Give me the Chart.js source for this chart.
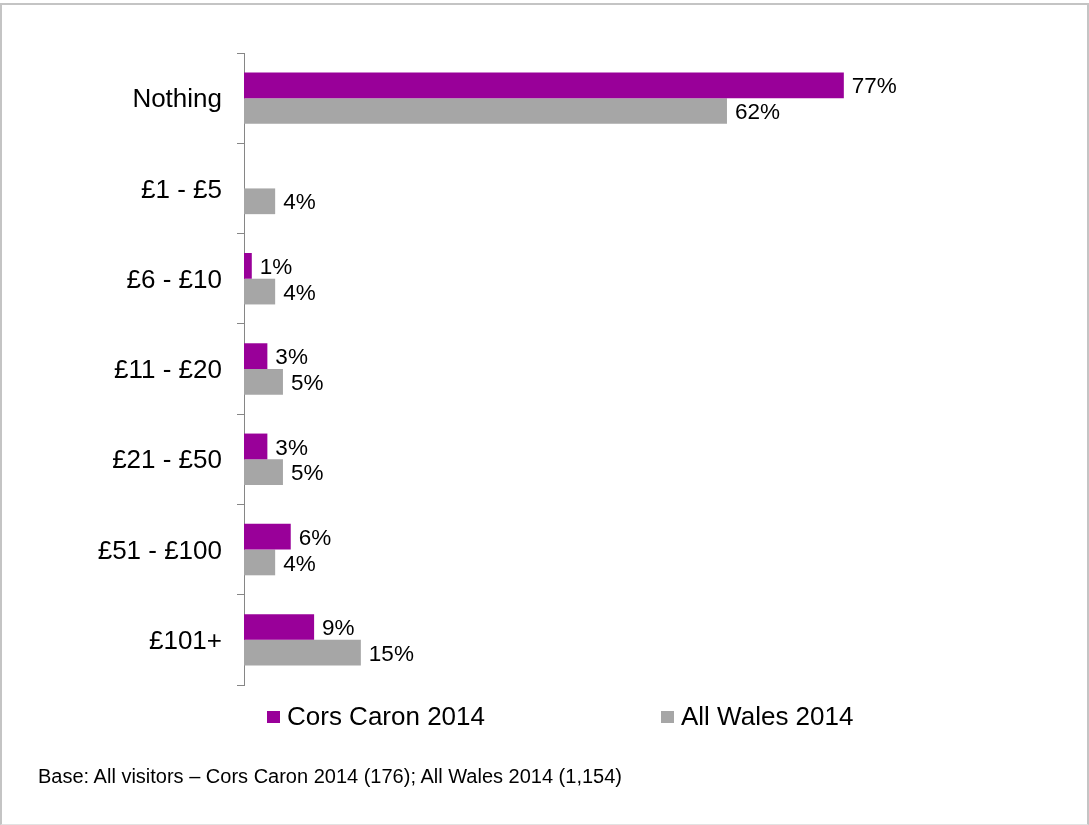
<!DOCTYPE html>
<html>
<head>
<meta charset="utf-8">
<title>Spend per visit</title>
<script src="https://cdn.jsdelivr.net/npm/chart.js@4/dist/chart.umd.min.js"></script>
<style>
  html, body { margin: 0; padding: 0; background: #fff; }
  body { width: 1089px; height: 825px; position: relative; overflow: hidden; font-family: "Liberation Sans", Arial, sans-serif; }
  #wrap { position: absolute; left: 0; top: 0; width: 1089px; height: 825px; }
  .frame {
    position: absolute; left: 0; top: 3px; width: 1089px; height: 822px; box-sizing: border-box;
    border-top: 2px solid #c4c4c4; border-left: 2px solid #c4c4c4; border-right: 2px solid #c4c4c4;
    border-bottom: 1px solid #e2e2e2; pointer-events: none;
  }
  .note { position: absolute; left: 38px; top: 765px; font-size: 20px; color: #000; white-space: nowrap; }
</style>
</head>
<body>
<div id="wrap"><canvas id="chart" width="1089" height="825"></canvas></div>
<div class="frame"></div>
<div class="note">Base: All visitors – Cors Caron 2014 (176); All Wales 2014 (1,154)</div>
<script>
const categories = ['Nothing', '£1 - £5', '£6 - £10', '£11 - £20', '£21 - £50', '£51 - £100', '£101+'];
const seriesNames = ['Cors Caron 2014', 'All Wales 2014'];
const corsCaron = [77, null, 1, 3, 3, 6, 9];
const allWales = [62, 4, 4, 5, 5, 4, 15];

const FONT = '"Liberation Sans", Arial, sans-serif';
const PURPLE = '#990099';
const GREY = '#a6a6a6';
const AXIS = '#868686';

// value labels to the right of each bar
const barLabels = {
  id: 'barLabels',
  afterDatasetsDraw(chart) {
    const ctx = chart.ctx;
    ctx.save();
    ctx.font = '22.5px ' + FONT;
    ctx.fillStyle = '#000';
    ctx.textBaseline = 'middle';
    ctx.textAlign = 'left';
    chart.data.datasets.forEach((ds, i) => {
      chart.getDatasetMeta(i).data.forEach((bar, j) => {
        const v = ds.data[j];
        if (v === null || v === undefined) return;
        ctx.fillText(v + '%', bar.x + 8, bar.y + 2);
      });
    });
    ctx.restore();
  },
};

// legend row under the plot, square then name
const legendRow = {
  id: 'legendRow',
  afterDraw(chart) {
    const ctx = chart.ctx;
    const left = chart.chartArea.left;
    const starts = [left + 23, left + 417];
    const y = chart.chartArea.bottom + 32;
    ctx.save();
    ctx.font = '26px ' + FONT;
    ctx.textBaseline = 'middle';
    ctx.textAlign = 'left';
    chart.data.datasets.forEach((ds, i) => {
      const x = starts[i];
      ctx.fillStyle = ds.backgroundColor;
      ctx.fillRect(x, y - 6, 13, 12);
      ctx.fillStyle = '#000';
      ctx.fillText(ds.label, x + 20, y + 1);
    });
    ctx.restore();
  },
};

new Chart(document.getElementById('chart'), {
  type: 'bar',
  data: {
    labels: categories,
    datasets: [
      { label: seriesNames[0], data: corsCaron, backgroundColor: PURPLE },
      { label: seriesNames[1], data: allWales, backgroundColor: GREY },
    ],
  },
  options: {
    indexAxis: 'y',
    responsive: false,
    animation: false,
    layout: { padding: { left: 0, top: 53, right: 66, bottom: 140 } },
    datasets: { bar: { categoryPercentage: 0.57, barPercentage: 1.0 } },
    scales: {
      x: { display: false, min: 0, max: 100 },
      y: {
        afterFit(scale) { scale.width = 244; },
        grid: {
          display: true,
          drawOnChartArea: false,
          drawTicks: true,
          tickLength: 7,
          color: AXIS,
          offset: true,
        },
        border: { display: true, color: AXIS, width: 1 },
        ticks: { color: '#000', font: { family: FONT, size: 26 }, padding: 15, labelOffset: 2 },
      },
    },
    plugins: {
      legend: { display: false },
      tooltip: { enabled: false },
    },
  },
  plugins: [barLabels, legendRow],
});
</script>
</body>
</html>
